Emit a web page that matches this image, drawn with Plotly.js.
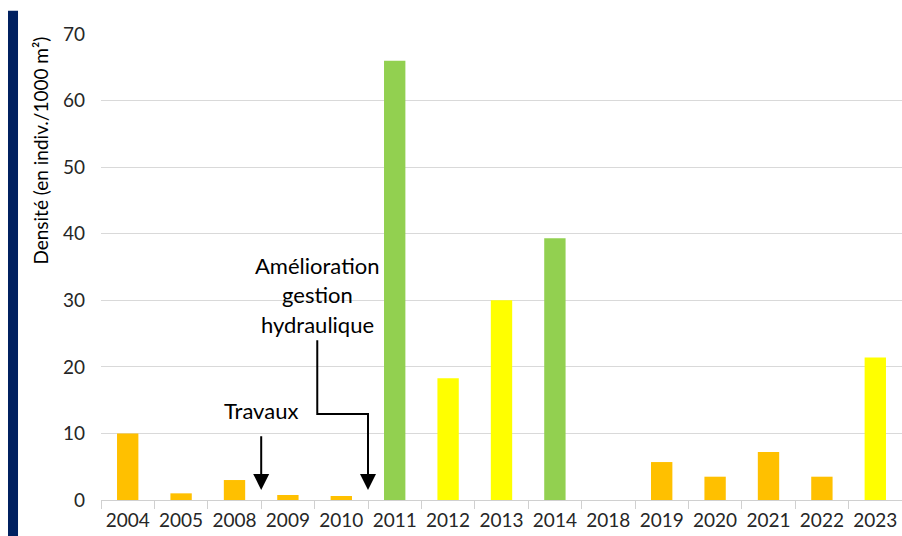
<!DOCTYPE html>
<html><head><meta charset="utf-8">
<script src="https://cdn.plot.ly/plotly-3.0.1.min.js"></script>
<style>body{margin:0;background:#fff}#c{width:902px;height:536px}</style>
</head><body><div id="c"></div>
<script>
const years = ['2004','2005','2008','2009','2010','2011','2012','2013','2014','2018','2019','2020','2021','2022','2023'];
const density = [10.0, 1.0, 3.0, 0.75, 0.6, 66.0, 18.3, 30.0, 39.3, 0, 5.7, 3.5, 7.2, 3.5, 21.4];
const barColors = ['#FFC000','#FFC000','#FFC000','#FFC000','#FFC000','#92D050','#FFFF00','#FFFF00','#92D050','#FFC000','#FFC000','#FFC000','#FFC000','#FFC000','#FFFF00'];
const yTicks = [0,10,20,30,40,50,60,70];
const yTitle = 'Densité (en indiv./1000 m²)';

const F = 'Lato, Carlito, "Liberation Sans", sans-serif';
const trace = {
  type: 'bar', x: years, y: density,
  marker: {color: barColors, line: {width: 0}},
  hoverinfo: 'skip'
};
const layout = {
  width: 902, height: 536,
  margin: {l: 101, r: 0, t: 34, b: 36},
  paper_bgcolor: '#fff', plot_bgcolor: '#fff',
  bargap: 0.6,
  showlegend: false,
  font: {family: F, color: '#262626'},
  xaxis: {
    type: 'category', tickson: 'boundaries', ticks: 'outside', ticklen: 8,
    tickcolor: '#d0d0d0', showline: true, linecolor: '#d0d0d0', linewidth: 1,
    showgrid: false, tickfont: {size: 19, family: F, color: '#262626'},
    ticklabelstandoff: 3,
    range: [-0.5, 14.5]
  },
  yaxis: {
    range: [0, 70], tickvals: yTicks, showgrid: true, gridcolor: '#d9d9d9', gridwidth: 1,
    zeroline: false, showline: false, ticks: '', ticklabelstandoff: 15,
    tickfont: {size: 19, family: F, color: '#262626'}
  },
  shapes: [
    {type: 'rect', xref: 'paper', yref: 'paper', x0: -0.1161, x1: -0.1036, y0: -0.08, y1: 1.05,
     fillcolor: '#002060', line: {width: 0}, layer: 'above'},
    {type: 'path', xref: 'x', yref: 'y', path: 'M 3.55 24.0 L 3.55 12.9 L 4.5 12.9 L 4.5 4',
     line: {color: '#000', width: 2}}
  ],
  annotations: [
    {xref: 'paper', yref: 'paper', x: -0.076, y: 0.75, xanchor: 'center', yanchor: 'middle',
     text: yTitle, textangle: -90, showarrow: false, font: {size: 19, family: F, color: '#000'}},
    {x: 2.5, y: 1.5, ax: 2.5, ay: 9.8, axref: 'x', ayref: 'y', xref: 'x', yref: 'y', text: '',
     showarrow: true, arrowhead: 2, arrowsize: 1.6, arrowwidth: 2, arrowcolor: '#000'},
    {x: 4.5, y: 1.5, ax: 4.5, ay: 12.9, axref: 'x', ayref: 'y', xref: 'x', yref: 'y', text: '',
     showarrow: true, arrowhead: 2, arrowsize: 1.6, arrowwidth: 2, arrowcolor: '#000'},
    {x: 2.5, y: 13.4, xref: 'x', yref: 'y', text: 'Travaux', showarrow: false,
     font: {size: 22, family: F, color: '#000'}},
    {x: 3.55, y: 35.3, xref: 'x', yref: 'y', text: 'Amélioration', showarrow: false,
     font: {size: 22, family: F, color: '#000'}},
    {x: 3.55, y: 30.8, xref: 'x', yref: 'y', text: 'gestion', showarrow: false,
     font: {size: 22, family: F, color: '#000'}},
    {x: 3.55, y: 26.4, xref: 'x', yref: 'y', text: 'hydraulique', showarrow: false,
     font: {size: 22, family: F, color: '#000'}}
  ]
};
Plotly.newPlot('c', [trace], layout, {displayModeBar: false, staticPlot: true});
</script></body></html>
